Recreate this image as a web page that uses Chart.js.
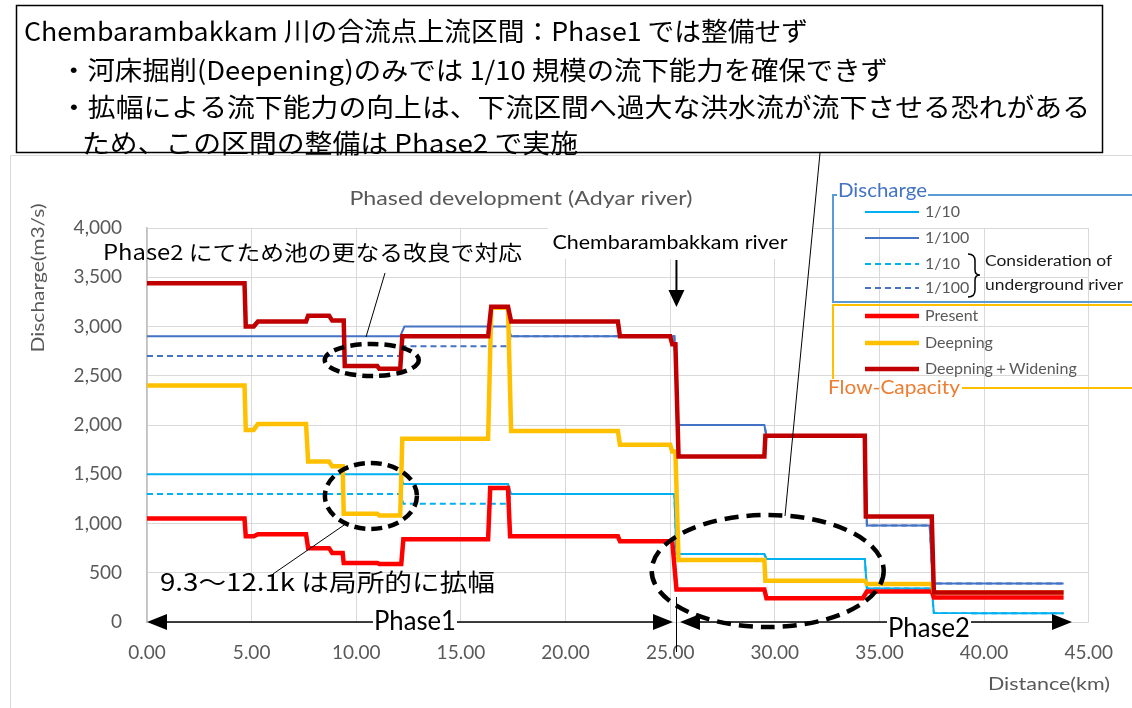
<!DOCTYPE html>
<html><head><meta charset="utf-8">
<script src="https://cdn.jsdelivr.net/npm/chart.js@4.4.1/dist/chart.umd.min.js"></script>
<style>html,body{margin:0;padding:0;background:#fff}#wrap{width:1132px;height:708px;position:relative}</style>
</head><body><div id="wrap"><canvas id="c" width="1132" height="708"></canvas></div>
<script>
// ---- data (distance km / discharge m3/s) ----
const xTicks = [0, 5, 10, 15, 20, 25, 30, 35, 40, 45];
const yTicks = [0, 500, 1000, 1500, 2000, 2500, 3000, 3500, 4000];

const kmDW = [0,4.66,4.72,5.1,5.3,7.6,7.7,8.7,8.85,9.4,9.45,11.0,11.1,12.1,12.2,16.3,16.45,17.25,17.4,22.5,22.6,25.0,25.1,25.25,25.4,29.5,29.55,34.3,34.35,37.5,37.6,43.8];
const qDW  = [3440,3440,3000,3000,3050,3050,3110,3110,3060,3060,2600,2600,2570,2570,2900,2900,3200,3200,3050,3050,2900,2900,2820,2820,1680,1680,1890,1890,1070,1070,300,300];

const kmDeep = [0,4.66,4.72,5.1,5.3,7.6,7.7,8.7,8.85,9.35,9.4,11.0,11.1,12.1,12.2,16.3,16.45,17.25,17.4,22.5,22.6,25.0,25.1,25.25,25.4,29.5,29.55,34.3,34.4,37.5,37.6,43.8];
const qDeep  = [2400,2400,1950,1950,2010,2010,1630,1630,1580,1580,1100,1100,1080,1080,1860,1860,3190,3190,1940,1940,1800,1800,1730,1730,630,630,420,420,385,385,300,300];

const kmPres = [0,4.66,4.72,5.1,5.3,7.6,7.7,8.7,8.85,9.35,9.4,11.0,11.1,12.15,12.25,16.3,16.4,17.25,17.35,22.5,22.6,25.1,25.3,29.5,29.6,34.2,34.4,37.5,37.6,43.8];
const qPres  = [1050,1050,870,870,890,890,750,750,700,700,600,600,590,590,840,840,1360,1360,870,870,820,820,330,330,240,240,310,310,250,250];

const kmQ100 = [0,12.1,12.3,17.25,17.4,25.2,25.35,29.5,29.6,34.3,34.4,37.4,37.55,43.8];
const q100   = [2900,2900,3000,3000,2900,2900,2000,2000,1890,1890,980,980,390,390];
const q100u  = [2700,2700,2800,2800,2900,2900,2000,2000,1890,1890,980,980,390,390];

const kmQ10 = [0,12.1,12.25,17.25,17.4,25.2,25.3,29.5,29.6,34.3,34.4,37.5,37.6,43.8];
const q10   = [1500,1500,1400,1400,1300,1300,690,690,640,640,340,340,90,90];
const q10u  = [1300,1300,1200,1200,1300,1300,690,690,640,640,340,340,90,90];

const legendLabels = ['1/10', '1/100', '1/10', '1/100', 'Present', 'Deepning', 'Deepning＋Widening'];

// ---- styles ----
const C = { q10:'#00B0F0', q100:'#4472C4', pres:'#FF0000', deep:'#FFC000', dw:'#C00000' };
const LAT = 'Lato, "Noto Sans", sans-serif';
const JP = '"Noto Sans CJK JP", sans-serif';

function pts(xs, ys){ return xs.map((x,i)=>({x:x, y:ys[i]})); }

function fitText(ctx, text, x, y, width, align){
  const w = ctx.measureText(text).width;
  const sx = width / w;
  ctx.save();
  ctx.translate(x, y);
  ctx.scale(sx, 1);
  ctx.textAlign = align || 'left';
  ctx.fillText(text, 0, 0);
  ctx.restore();
}

function arrowHead(ctx, tipX, tipY, dir, len, half){
  // dir: 'l','r','d'
  ctx.beginPath();
  if (dir==='l'){ ctx.moveTo(tipX,tipY); ctx.lineTo(tipX+len,tipY-half); ctx.lineTo(tipX+len,tipY+half); }
  else if (dir==='r'){ ctx.moveTo(tipX,tipY); ctx.lineTo(tipX-len,tipY-half); ctx.lineTo(tipX-len,tipY+half); }
  else { ctx.moveTo(tipX,tipY); ctx.lineTo(tipX-half,tipY-len); ctx.lineTo(tipX+half,tipY-len); }
  ctx.closePath(); ctx.fill();
}

const overlay = {
  id: 'overlay',
  beforeDraw(chart){
    const ctx = chart.ctx;
    ctx.save();
    ctx.fillStyle = '#fff'; ctx.fillRect(0,0,chart.width,chart.height);
    ctx.strokeStyle = '#D9D9D9'; ctx.lineWidth = 1;
    ctx.beginPath(); ctx.moveTo(10.5,708); ctx.lineTo(10.5,155.5); ctx.lineTo(1132,155.5); ctx.stroke();
    ctx.restore();
  },
  afterDraw(chart){
    const ctx = chart.ctx;
    const xs = chart.scales.x, ys = chart.scales.y;
    const X = v => xs.getPixelForValue(v), Y = v => ys.getPixelForValue(v);
    ctx.save();
    ctx.textBaseline = 'middle';

    // Title & axis titles
    ctx.fillStyle = '#595959';
    ctx.font = '20px ' + LAT;
    fitText(ctx, 'Phased development (Adyar river)', 521, 199, 343, 'center');
    ctx.font = '18px ' + LAT;
    fitText(ctx, 'Distance(km)', 1049, 684, 122, 'center');
    ctx.save(); ctx.translate(38, 278); ctx.rotate(-Math.PI/2);
    fitText(ctx, 'Discharge(m3/s)', 0, 0, 149, 'center');
    ctx.restore();

    // Chembarambakkam river label with white background + arrow
    ctx.fillStyle = '#fff'; ctx.fillRect(548, 226, 266, 33);
    ctx.fillStyle = '#000'; ctx.font = '19px ' + LAT;
    fitText(ctx, 'Chembarambakkam river', 670, 243, 235, 'center');
    const ax = X(25.3);
    ctx.strokeStyle = '#000'; ctx.lineWidth = 2;
    ctx.beginPath(); ctx.moveTo(ax, 260); ctx.lineTo(ax, 292); ctx.stroke();
    arrowHead(ctx, ax, 307, 'd', 17, 8);

    // Annotation texts
    ctx.font = '21px ' + JP;
    fitText(ctx, 'Phase2 にてため池の更なる改良で対応', 103, 252, 419, 'left');

    // callout lines
    ctx.lineWidth = 1; ctx.strokeStyle = '#000';
    ctx.beginPath(); ctx.moveTo(385, 273); ctx.lineTo(366, 337); ctx.stroke();
    ctx.beginPath(); ctx.moveTo(347, 523); ctx.lineTo(273, 574); ctx.stroke();
    ctx.beginPath(); ctx.moveTo(820, 153); ctx.lineTo(785, 516); ctx.stroke();

    // dashed ellipses
    ctx.setLineDash([11, 6]); ctx.lineWidth = 4.5;
    ctx.beginPath(); ctx.ellipse(X(10.74), Y(2660), 47, 16, 0, 0, Math.PI*2); ctx.stroke();
    ctx.beginPath(); ctx.ellipse(X(10.7), Y(1280), 46, 33, 0, 0, Math.PI*2); ctx.stroke();
    ctx.setLineDash([14, 8]);
    ctx.beginPath(); ctx.ellipse(X(29.66), Y(518), 116, 56, 0, 0, Math.PI*2); ctx.stroke();
    ctx.setLineDash([]);

    ctx.fillStyle = '#000';
    ctx.font = '24px ' + JP;
    fitText(ctx, '9.3〜12.1k は局所的に拡幅', 160, 582, 335, 'left');

    // Phase arrows
    const y0 = Y(0);
    ctx.lineWidth = 1.5;
    ctx.beginPath(); ctx.moveTo(X(0)+10, y0); ctx.lineTo(673-10, y0); ctx.stroke();
    arrowHead(ctx, X(0), y0, 'l', 20, 8);
    arrowHead(ctx, 673, y0, 'r', 20, 8);
    ctx.beginPath(); ctx.moveTo(680+10, y0); ctx.lineTo(1072-10, y0); ctx.stroke();
    arrowHead(ctx, 680, y0, 'l', 20, 8);
    arrowHead(ctx, 1072, y0, 'r', 20, 8);
    ctx.lineWidth = 1;
    ctx.beginPath(); ctx.moveTo(676.5, 597); ctx.lineTo(676.5, 652); ctx.stroke();

    ctx.font = '26px ' + LAT;
    ctx.fillStyle = '#fff'; ctx.fillRect(373, 610, 84, 26); ctx.fillRect(887, 614, 84, 28);
    ctx.fillStyle = '#000';
    fitText(ctx, 'Phase1', 415, 622, 82, 'center');
    fitText(ctx, 'Phase2', 929, 629, 82, 'center');

    // ---- Legend ----
    ctx.font = '19px ' + LAT;
    ctx.fillStyle = '#4472C4';
    fitText(ctx, 'Discharge', 838, 191, 89, 'left');
    ctx.strokeStyle = '#5B9BD5'; ctx.lineWidth = 2;
    ctx.beginPath(); ctx.moveTo(837, 195); ctx.lineTo(833, 195); ctx.lineTo(833, 302); ctx.lineTo(1132, 302); ctx.stroke();
    ctx.beginPath(); ctx.moveTo(928, 195); ctx.lineTo(1132, 195); ctx.stroke();
    ctx.strokeStyle = '#FFC000';
    ctx.beginPath(); ctx.moveTo(1132, 305); ctx.lineTo(833, 305); ctx.lineTo(833, 379); ctx.stroke();
    ctx.beginPath(); ctx.moveTo(962, 388); ctx.lineTo(1132, 388); ctx.stroke();
    ctx.fillStyle = '#ED7D31';
    fitText(ctx, 'Flow-Capacity', 828, 388, 132, 'left');

    const ds = chart.data.datasets;
    const order = [5, 3, 6, 4, 2, 1, 0]; // q10, q100, q10u, q100u, pres, deep, dw
    const rowsY = [212, 238, 264, 288, 316, 343, 369];
    ctx.font = '16px ' + LAT;
    order.forEach((di, i) => {
      const d = ds[di];
      ctx.strokeStyle = d.borderColor; ctx.lineWidth = d.borderWidth;
      ctx.setLineDash(d.borderDash || []);
      ctx.beginPath(); ctx.moveTo(865, rowsY[i]); ctx.lineTo(919, rowsY[i]); ctx.stroke();
      ctx.setLineDash([]);
      ctx.fillStyle = '#595959';
      ctx.fillText(legendLabels[i], 925, rowsY[i]);
    });
    // brace
    ctx.strokeStyle = '#000'; ctx.lineWidth = 1.5;
    ctx.beginPath();
    ctx.moveTo(968, 254); ctx.quadraticCurveTo(975, 254, 975, 261);
    ctx.lineTo(975, 270); ctx.quadraticCurveTo(975, 275, 980, 275);
    ctx.quadraticCurveTo(975, 275, 975, 280);
    ctx.lineTo(975, 290); ctx.quadraticCurveTo(975, 297, 968, 297);
    ctx.stroke();
    ctx.fillStyle = '#1a1a1a';
    fitText(ctx, 'Consideration of', 985, 261, 127, 'left');
    fitText(ctx, 'underground river', 985, 285, 138, 'left');

    // ---- top text box ----
    ctx.fillStyle = '#fff'; ctx.fillRect(16, 5, 1087, 148);
    ctx.strokeStyle = '#000'; ctx.lineWidth = 1.5;
    ctx.strokeRect(16.5, 5.5, 1086, 147);
    ctx.fillStyle = '#000';
    ctx.font = '26px ' + JP;
    fitText(ctx, 'Chembarambakkam 川の合流点上流区間：Phase1 では整備せず', 24, 31, 784, 'left');
    fitText(ctx, '・河床掘削(Deepening)のみでは 1/10 規模の流下能力を確保できず', 60, 70, 828, 'left');
    fitText(ctx, '・拡幅による流下能力の向上は、下流区間へ過大な洪水流が流下させる恐れがある', 60, 107, 1030, 'left');
    fitText(ctx, 'ため、この区間の整備は Phase2 で実施', 82, 143, 496, 'left');

    ctx.restore();
  }
};

const thin = 2, thick = 4.5;
new Chart(document.getElementById('c'), {
  type: 'line',
  data: {
    datasets: [
      { label:'Deepning＋Widening', data: pts(kmDW, qDW), borderColor:C.dw, borderWidth:thick },
      { label:'Deepning', data: pts(kmDeep, qDeep), borderColor:C.deep, borderWidth:thick },
      { label:'Present', data: pts(kmPres, qPres), borderColor:C.pres, borderWidth:thick },
      { label:'1/100', data: pts(kmQ100, q100), borderColor:C.q100, borderWidth:thin },
      { label:'1/100 underground', data: pts(kmQ100, q100u), borderColor:C.q100, borderWidth:thin, borderDash:[6,4] },
      { label:'1/10', data: pts(kmQ10, q10), borderColor:C.q10, borderWidth:thin },
      { label:'1/10 underground', data: pts(kmQ10, q10u), borderColor:C.q10, borderWidth:thin, borderDash:[6,4] }
    ]
  },
  options: {
    responsive: false,
    animation: false,
    devicePixelRatio: 1,
    parsing: true,
    elements: { point: { radius: 0 }, line: { tension: 0, fill: false, borderJoinStyle: 'miter', borderCapStyle: 'butt' } },
    layout: { padding: { left: 0, right: 38, top: 228, bottom: 0 } },
    plugins: { legend: { display: false }, title: { display: false }, tooltip: { enabled: false } },
    scales: {
      x: {
        type: 'linear', min: 0, max: 45,
        afterFit: s => { s.height = 86; },
        afterBuildTicks: s => { s.ticks = xTicks.map(v => ({ value: v })); },
        grid: { color: '#D9D9D9', drawTicks: false, lineWidth: 1 },
        border: { display: false },
        ticks: { padding: 19, color: '#595959', font: { family: LAT, size: 19 }, maxRotation: 0, callback: v => Number(v).toFixed(2) }
      },
      y: {
        min: 0, max: 4000,
        afterFit: s => { s.width = 147; },
        afterBuildTicks: s => { s.ticks = yTicks.map(v => ({ value: v })); },
        grid: { color: '#D9D9D9', drawTicks: false, lineWidth: 1 },
        border: { display: true, color: '#BFBFBF', width: 1.5 },
        ticks: { padding: 25, color: '#595959', font: { family: LAT, size: 19 }, callback: v => Number(v).toLocaleString('en-US') }
      }
    }
  },
  plugins: [overlay]
});
</script></body></html>
